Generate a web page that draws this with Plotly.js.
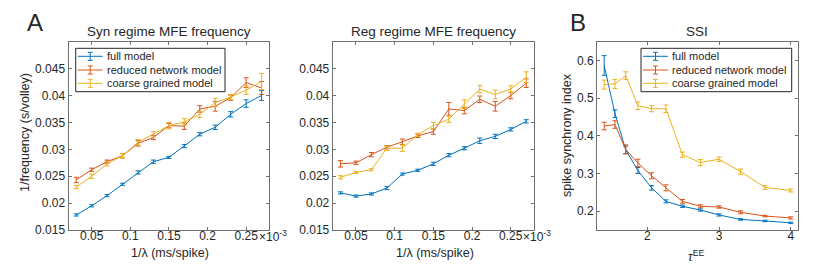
<!DOCTYPE html>
<html>
<head>
<meta charset="utf-8">
<script src="https://cdn.plot.ly/plotly-3.0.1.min.js"></script>
<style>html,body{margin:0;padding:0;background:#fff;}#chart{width:818px;height:271px;}</style>
</head>
<body>
<div id="chart"></div>
<script>
// ---------- data ----------
const lambdaInv = [0.03,0.05,0.07,0.09,0.11,0.13,0.15,0.17,0.19,0.21,0.23,0.25,0.27];

const synFull    = [0.0178,0.0195,0.0214,0.0235,0.0257,0.0277,0.0285,0.0306,0.0328,0.0341,0.0365,0.0385,0.0400];
const synFullErr = [0.0002,0.0002,0.0002,0.0002,0.0003,0.0003,0.0002,0.0003,0.0003,0.0004,0.0005,0.0007,0.0009];
const synRed     = [0.0243,0.0262,0.0277,0.0288,0.0311,0.0322,0.0344,0.0343,0.0375,0.0380,0.0396,0.0424,0.0414];
const synRedErr  = [0.0005,0.0003,0.0003,0.0004,0.0005,0.0004,0.0004,0.0006,0.0006,0.0009,0.0005,0.0009,0.0012];
const synCG      = [0.0230,0.0250,0.0273,0.0288,0.0313,0.0328,0.0344,0.0351,0.0365,0.0387,0.0397,0.0410,0.0426];
const synCGErr   = [0.0003,0.0004,0.0004,0.0004,0.0005,0.0005,0.0006,0.0006,0.0006,0.0008,0.0005,0.0008,0.0015];

const regFull    = [0.0219,0.0213,0.0217,0.0228,0.0254,0.0261,0.0273,0.0289,0.0302,0.0316,0.0324,0.0337,0.0352];
const regFullErr = [0.0002,0.0002,0.0002,0.0003,0.0002,0.0002,0.0003,0.0003,0.0003,0.0005,0.0004,0.0003,0.0003];
const regRed     = [0.0273,0.0275,0.0290,0.0304,0.0314,0.0325,0.0333,0.0375,0.0372,0.0393,0.0380,0.0400,0.0423];
const regRedErr  = [0.0006,0.0003,0.0004,0.0003,0.0005,0.0003,0.0005,0.0012,0.0006,0.0006,0.0009,0.0006,0.0008];
const regCG      = [0.0248,0.0257,0.0262,0.0302,0.0302,0.0327,0.0344,0.0356,0.0384,0.0412,0.0402,0.0412,0.0434];
const regCGErr   = [0.0003,0.0002,0.0002,0.0004,0.0006,0.0003,0.0006,0.0006,0.0008,0.0007,0.0008,0.0006,0.0010];

const tauEE      = [1.4,1.55,1.7,1.87,2.06,2.26,2.49,2.74,3.0,3.3,3.64,4.0];
const ssiFull    = [0.587,0.459,0.363,0.308,0.262,0.226,0.213,0.203,0.190,0.178,0.174,0.169];
const ssiFullErr = [0.026,0.010,0.010,0.008,0.006,0.004,0.003,0.003,0.003,0.002,0.002,0.002];
const ssiRed     = [0.426,0.430,0.364,0.328,0.294,0.262,0.226,0.213,0.211,0.197,0.187,0.182];
const ssiRedErr  = [0.010,0.010,0.012,0.010,0.008,0.008,0.005,0.004,0.003,0.004,0.002,0.003];
const ssiCG      = [0.536,0.538,0.560,0.480,0.472,0.472,0.350,0.329,0.338,0.305,0.263,0.255];
const ssiCGErr   = [0.012,0.012,0.010,0.010,0.008,0.010,0.007,0.008,0.006,0.007,0.005,0.004];

const seriesNames = ["full model","reduced network model","coarse grained model"];
const freqTickVals = [0.015,0.02,0.025,0.03,0.035,0.04,0.045];
const freqTickText = ["0.015","0.02","0.025","0.03","0.035","0.04","0.045"];
const lamTickVals = [0.05,0.1,0.15,0.2,0.25];
const lamTickText = ["0.05","0.1","0.15","0.2","0.25"];
const ssiTickVals = [0.2,0.3,0.4,0.5,0.6];
const ssiTickText = ["0.2","0.3","0.4","0.5","0.6"];
const tauTickVals = [2,3,4];
const tauTickText = ["2","3","4"];

// ---------- style ----------
const W = 818, H = 271;
const colors = ["#0072BD","#D95319","#EDB120"];
const FONT = "Liberation Sans, Arial, Helvetica, sans-serif";
const TXT = "#262626";
const AX = "#707070";
const px = x => x / W;
const py = y => 1 - y / H;

function tr(x, y, e, ci, xa, ya) {
  return {
    x: x, y: y, type: "scatter", mode: "lines",
    line: {color: colors[ci], width: 1},
    error_y: {type: "data", array: e, visible: true, color: colors[ci], thickness: 1, width: 2.5},
    xaxis: xa, yaxis: ya, showlegend: false, hoverinfo: "skip"
  };
}

const data = [
  tr(lambdaInv, synFull, synFullErr, 0, "x", "y"),
  tr(lambdaInv, synRed, synRedErr, 1, "x", "y"),
  tr(lambdaInv, synCG, synCGErr, 2, "x", "y"),
  tr(lambdaInv, regFull, regFullErr, 0, "x2", "y2"),
  tr(lambdaInv, regRed, regRedErr, 1, "x2", "y2"),
  tr(lambdaInv, regCG, regCGErr, 2, "x2", "y2"),
  tr(tauEE, ssiFull, ssiFullErr, 0, "x3", "y3"),
  tr(tauEE, ssiRed, ssiRedErr, 1, "x3", "y3"),
  tr(tauEE, ssiCG, ssiCGErr, 2, "x3", "y3")
];

function axis(dom, range, tv, tt, anchor, isX) {
  const a = {
    domain: dom, range: range, anchor: anchor,
    tickmode: "array", tickvals: tv, ticktext: tt,
    ticks: "inside", ticklen: 3, tickwidth: 1, tickcolor: AX,
    showline: true, linecolor: AX, linewidth: 1, mirror: "ticks",
    showgrid: false, zeroline: false,
    tickfont: {family: FONT, size: 12, color: TXT}
  };
  if (isX) a.ticklabelstandoff = -5;
  return a;
}

const xd1 = [px(68.5), px(269.3)], xd2 = [px(332.7), px(534)], xd3 = [px(597), px(798)];
const yd = [py(230), py(41.7)];

const layout = {
  width: W, height: H,
  margin: {l: 0, r: 0, t: 0, b: 0},
  paper_bgcolor: "#fff", plot_bgcolor: "#fff",
  showlegend: false,
  font: {family: FONT, color: TXT},
  xaxis:  axis(xd1, [0.02, 0.28], lamTickVals, lamTickText, "y", true),
  yaxis:  axis(yd, [0.015, 0.05], freqTickVals, freqTickText, "x"),
  xaxis2: axis(xd2, [0.02, 0.28], lamTickVals, lamTickText, "y2", true),
  yaxis2: axis(yd, [0.015, 0.05], freqTickVals, freqTickText, "x2"),
  xaxis3: axis(xd3, [1.3, 4.1], tauTickVals, tauTickText, "y3", true),
  yaxis3: axis(yd, [0.15, 0.65], ssiTickVals, ssiTickText, "x3"),
  shapes: [],
  annotations: []
};

function ann(text, x, y, size, opts) {
  return Object.assign({
    text: text, xref: "paper", yref: "paper", x: px(x), y: py(y),
    xanchor: "center", yanchor: "middle", showarrow: false,
    font: {family: FONT, size: size, color: TXT}
  }, opts || {});
}

layout.annotations.push(
  ann("A", 35, 23, 24),
  ann("B", 578, 23, 24),
  ann("Syn regime MFE frequency", 169, 32, 13.5),
  ann("Reg regime MFE frequency", 433, 32, 13.5),
  ann("SSI", 697, 32, 13.5),
  ann("1/frequency (s/volley)", 25, 133, 12.5, {textangle: -90}),
  ann("spike synchrony index", 567, 135, 12.5, {textangle: -90}),
  ann("1/λ (ms/spike)", 170, 253, 12.5),
  ann("1/λ (ms/spike)", 435, 253, 12.5),
  ann("<i>τ</i><sup>EE</sup>", 696, 256, 12.5),
  ann("×10<sup>-3</sup>", 257, 236, 12, {xanchor: "left"}),
  ann("×10<sup>-3</sup>", 521, 236, 12, {xanchor: "left"})
);

// manual legends (box, line sample with error glyph, text)
function legend(x0, y0, x1, y1) {
  layout.shapes.push({type: "rect", xref: "paper", yref: "paper",
    x0: px(x0), x1: px(x1), y0: py(y0), y1: py(y1),
    line: {color: TXT, width: 1}, fillcolor: "#fff", layer: "above"});
  const rows = [y0 + 8, y0 + 21.7, y0 + 35];
  for (let i = 0; i < 3; i++) {
    const ry = rows[i], cx = x0 + 14.5;
    const c = colors[i];
    layout.shapes.push(
      {type: "line", xref: "paper", yref: "paper", x0: px(x0 + 2), x1: px(x0 + 27), y0: py(ry), y1: py(ry), line: {color: c, width: 1}, layer: "above"},
      {type: "line", xref: "paper", yref: "paper", x0: px(cx), x1: px(cx), y0: py(ry - 4), y1: py(ry + 4), line: {color: c, width: 1}, layer: "above"},
      {type: "line", xref: "paper", yref: "paper", x0: px(cx - 2.5), x1: px(cx + 2.5), y0: py(ry - 4), y1: py(ry - 4), line: {color: c, width: 1}, layer: "above"},
      {type: "line", xref: "paper", yref: "paper", x0: px(cx - 2.5), x1: px(cx + 2.5), y0: py(ry + 4), y1: py(ry + 4), line: {color: c, width: 1}, layer: "above"}
    );
    layout.annotations.push(ann(seriesNames[i], x0 + 29, ry, 11, {xanchor: "left"}));
  }
}
legend(75.7, 48.3, 225, 91.7);
legend(641, 48.3, 791.7, 91.7);

Plotly.newPlot("chart", data, layout, {staticPlot: true, displayModeBar: false});
</script>
</body>
</html>
